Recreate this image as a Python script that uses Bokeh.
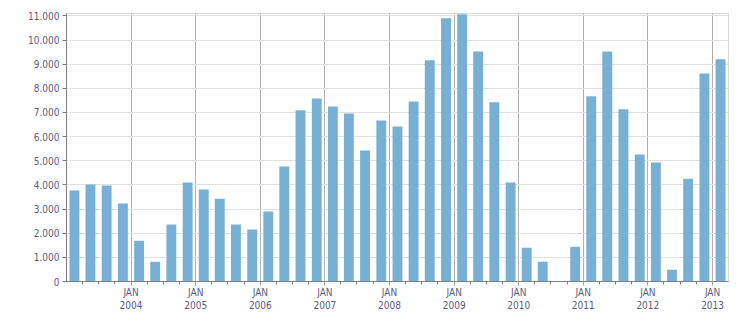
import numpy as np
import pandas as pd
from bokeh.plotting import figure
from bokeh.models import ColumnDataSource, FixedTicker, CustomJSTickFormatter, Range1d
from bokeh.embed import file_html
from bokeh.resources import INLINE

# ---- data ----
quarters = [
    "2003Q1", "2003Q2", "2003Q3", "2003Q4",
    "2004Q1", "2004Q2", "2004Q3", "2004Q4",
    "2005Q1", "2005Q2", "2005Q3", "2005Q4",
    "2006Q1", "2006Q2", "2006Q3", "2006Q4",
    "2007Q1", "2007Q2", "2007Q3", "2007Q4",
    "2008Q1", "2008Q2", "2008Q3", "2008Q4",
    "2009Q1", "2009Q2", "2009Q3", "2009Q4",
    "2010Q1", "2010Q2", "2010Q3", "2010Q4",
    "2011Q1", "2011Q2", "2011Q3", "2011Q4",
    "2012Q1", "2012Q2", "2012Q3", "2012Q4",
    "2013Q1",
]
values = [
    3770, 4020, 3980, 3230,
    1690, 820, 2360, 4100,
    3810, 3430, 2360, 2150,
    2900, 4760, 7090, 7580,
    7250, 6960, 5430, 6670,
    6420, 7460, 9160, 10900,
    11070, 9530, 7420, 4100,
    1400, 820, None, 1440,
    7670, 9530, 7130, 5260,
    4930, 490, 4260, 8620,
    9200,
]
year_ticks = list(range(2004, 2014))
y_ticks = list(range(0, 11001, 1000))

# ---- positions from quarters ----
periods = pd.PeriodIndex(quarters, freq="Q")
starts = periods.start_time
ends = (periods + 1).start_time
centers = starts + (ends - starts) / 2
vals = np.array([np.nan if v is None else v for v in values], dtype=float)

src = ColumnDataSource(dict(x=centers, top=vals))

def ms(ts):
    return pd.Timestamp(ts).value / 1e6

major = [ms(f"{y}-01-01") for y in year_ticks]
minor = [ms(f"{y}-{m:02d}-01") for y in range(2003, 2014) for m in (4, 7, 10)
         if pd.Timestamp(f"{y}-{m:02d}-01") < pd.Timestamp("2013-04-01")]

p = figure(width=751, height=313, x_axis_type="datetime",
           output_backend="svg", toolbar_location=None,
           x_range=Range1d(ms("2003-01-01"), ms("2013-04-01")),
           y_range=Range1d(0, 11100))
p.min_border_left = 66
p.min_border_right = 23
p.min_border_top = 13
p.min_border_bottom = 30
p.background_fill_color = "white"
p.border_fill_color = "white"
p.outline_line_color = "#d9d9d9"
p.outline_line_width = 1

bar_w = 56 * 24 * 3600 * 1000
p.vbar(x="x", top="top", width=bar_w, bottom=0, source=src,
       fill_color="#78b0d3", line_color=None)

label_color = "#5c5c7c"
font = "DejaVu Sans Condensed"

# x axis
xa = p.xaxis[0]
xa.ticker = FixedTicker(ticks=major, minor_ticks=minor)
xa.formatter = CustomJSTickFormatter(code="""
    const d = new Date(tick);
    return "JAN\\n" + d.getUTCFullYear();
""")
xa.axis_line_color = "#808080"
xa.axis_line_width = 1
xa.major_tick_line_color = "#a0a0a0"
xa.major_tick_out = 4
xa.major_tick_in = 0
xa.minor_tick_line_color = "#808080"
xa.minor_tick_out = 3
xa.minor_tick_in = 0
xa.major_label_text_font = font
xa.major_label_text_font_size = "10px"
xa.major_label_text_color = label_color
xa.major_label_standoff = 1

# y axis
ya = p.yaxis[0]
ya.ticker = FixedTicker(ticks=y_ticks)
ya.formatter = CustomJSTickFormatter(code="""
    return String(Math.round(tick)).replace(/\\B(?=(\\d{3})+(?!\\d))/g, '.');
""")
ya.axis_line_color = "#808080"
ya.axis_line_width = 1
ya.major_tick_line_color = "#808080"
ya.major_tick_out = 4
ya.major_tick_in = 0
ya.minor_tick_line_color = None
ya.major_label_text_font = font
ya.major_label_text_font_size = "10px"
ya.major_label_text_color = label_color
ya.major_label_standoff = 3

p.xgrid.grid_line_color = "#b0b0b0"
p.xgrid.grid_line_width = 1
p.ygrid.grid_line_color = "#e0e0e0"
p.ygrid.grid_line_width = 1
p.ygrid.level = "underlay"
p.xgrid.level = "underlay"

open("out.html", "w").write(file_html(p, INLINE))
